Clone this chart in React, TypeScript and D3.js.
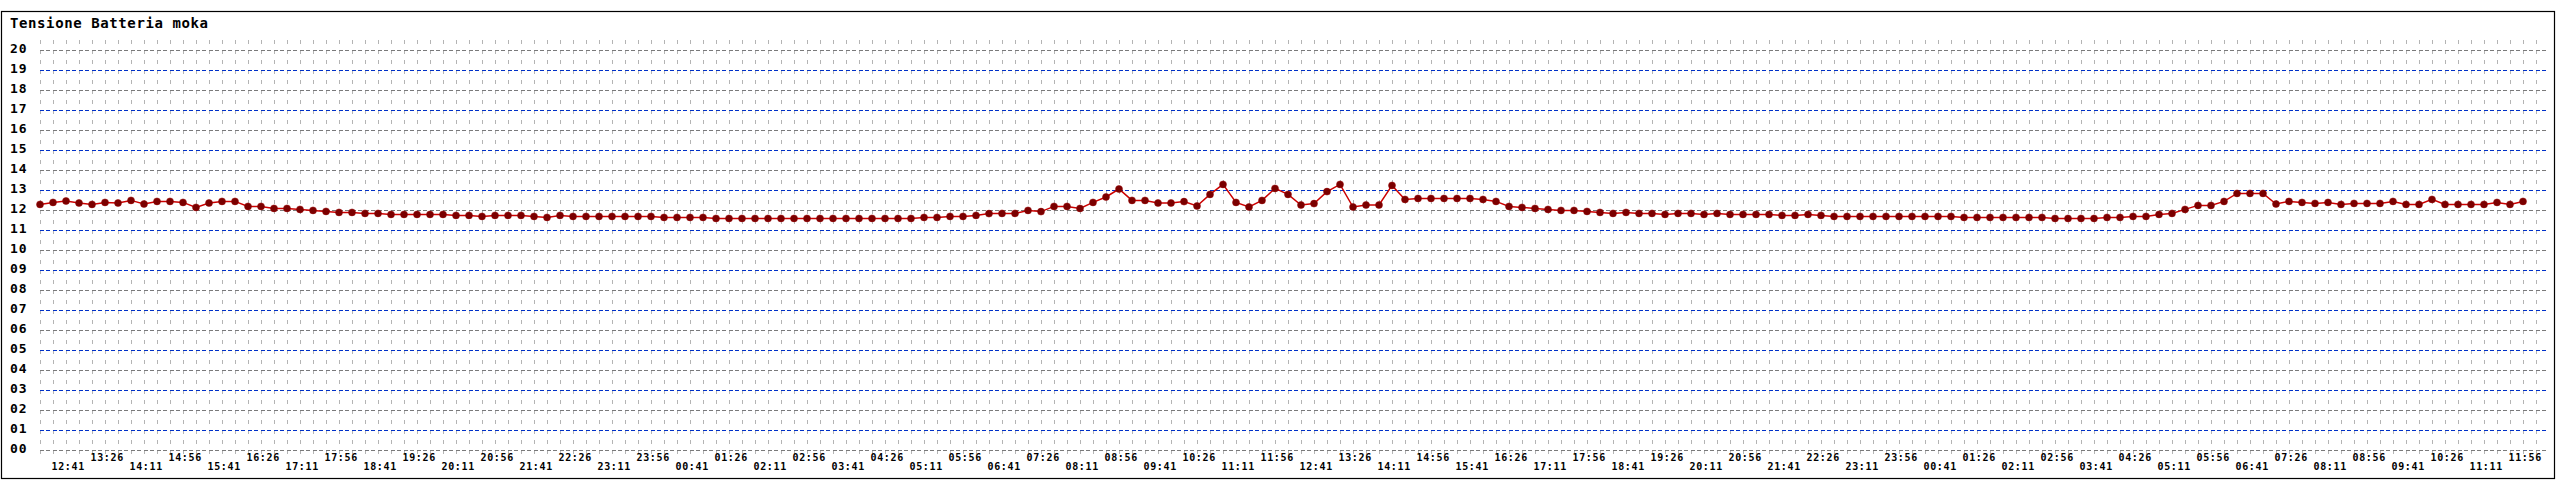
import React, { useEffect, useRef } from 'react';
import * as d3 from 'd3';

// Tensione batteria (V), one reading every 15 minutes starting at 12:26
const voltages: number[] = [
  12.28, 12.38, 12.45, 12.35, 12.28, 12.38, 12.35, 12.48, 12.30, 12.43,
  12.43, 12.38, 12.13, 12.35, 12.43, 12.43, 12.18, 12.18, 12.08, 12.08,
  12.03, 11.98, 11.93, 11.88, 11.88, 11.83, 11.83, 11.78, 11.78, 11.78,
  11.78, 11.78, 11.73, 11.73, 11.68, 11.73, 11.73, 11.73, 11.68, 11.63,
  11.73, 11.68, 11.68, 11.68, 11.68, 11.68, 11.68, 11.68, 11.63, 11.63,
  11.63, 11.63, 11.58, 11.58, 11.58, 11.58, 11.58, 11.58, 11.58, 11.58,
  11.58, 11.58, 11.58, 11.58, 11.58, 11.58, 11.58, 11.58, 11.63, 11.63,
  11.68, 11.68, 11.73, 11.82, 11.83, 11.83, 11.98, 11.92, 12.18, 12.18,
  12.08, 12.38, 12.65, 13.05, 12.48, 12.48, 12.35, 12.35, 12.42, 12.20,
  12.78, 13.28, 12.38, 12.15, 12.48, 13.08, 12.78, 12.25, 12.32, 12.92,
  13.28, 12.15, 12.25, 12.25, 13.23, 12.53, 12.58, 12.58, 12.58, 12.58,
  12.58, 12.53, 12.43, 12.18, 12.13, 12.08, 12.03, 11.98, 11.98, 11.93,
  11.88, 11.83, 11.88, 11.83, 11.83, 11.78, 11.83, 11.83, 11.78, 11.83,
  11.78, 11.78, 11.78, 11.78, 11.73, 11.73, 11.78, 11.73, 11.68, 11.68,
  11.68, 11.68, 11.68, 11.68, 11.68, 11.68, 11.68, 11.68, 11.63, 11.63,
  11.63, 11.63, 11.63, 11.63, 11.63, 11.58, 11.58, 11.58, 11.58, 11.63,
  11.63, 11.68, 11.68, 11.78, 11.83, 12.03, 12.23, 12.23, 12.43, 12.83,
  12.83, 12.83, 12.30, 12.43, 12.38, 12.33, 12.38, 12.28, 12.33, 12.33,
  12.33, 12.43, 12.28, 12.28, 12.53, 12.28, 12.28, 12.28, 12.28, 12.38,
  12.28, 12.43,
];

const yTicks: number[] = d3.range(0, 21);
const title = 'Tensione Batteria moka';

const startTime = new Date(2024, 0, 1, 12, 26);
const stepMinutes = 15;
const gridSlots = 192; // 48 hours of 15 minute slots
const labelEvery = 3; // a label every 45 minutes
const labelOffset = 1; // first label at 12:41

export default function App() {
  const ref = useRef<SVGSVGElement>(null);

  useEffect(() => {
    if (!ref.current) return;
    const svg = d3.select(ref.current);
    svg.selectAll('*').remove();

    const width = 2560;
    const height = 480;
    const plotLeft = 40;
    const plotRight = 2536;

    const endTime = d3.timeMinute.offset(startTime, stepMinutes * gridSlots);
    const x = d3.scaleTime().domain([startTime, endTime]).range([plotLeft, plotRight]);
    const y = d3.scaleLinear().domain([0, 20]).range([450, 50]);

    const times = voltages.map((_, i) => d3.timeMinute.offset(startTime, stepMinutes * i));
    const points = voltages.map((v, i) => ({ t: times[i], v }));

    // background + frame
    svg.append('rect').attr('width', width).attr('height', height).attr('fill', '#fff');
    svg
      .append('rect')
      .attr('x', 1.5)
      .attr('y', 11.5)
      .attr('width', 2553)
      .attr('height', 467)
      .attr('fill', 'none')
      .attr('stroke', '#000')
      .attr('stroke-width', 1.2);

    svg
      .append('text')
      .attr('x', 10)
      .attr('y', 28)
      .attr('font-family', 'DejaVu Sans Mono')
      .attr('font-size', 14)
      .attr('font-weight', 'bold')
      .attr('letter-spacing', 0.6)
      .attr('fill', '#000')
      .text(title);

    // vertical grid
    const gridTimes = d3.range(gridSlots + 1).map(i => d3.timeMinute.offset(startTime, stepMinutes * i));
    svg
      .append('g')
      .attr('shape-rendering', 'crispEdges')
      .selectAll('line')
      .data(gridTimes)
      .enter()
      .append('line')
      .attr('x1', d => Math.round(x(d)) + 0.5)
      .attr('x2', d => Math.round(x(d)) + 0.5)
      .attr('y1', 40)
      .attr('y2', 458)
      .attr('stroke', '#b4b4b4')
      .attr('stroke-width', 1)
      .attr('stroke-dasharray', '4,6');

    // horizontal grid
    svg
      .append('g')
      .attr('shape-rendering', 'crispEdges')
      .selectAll('line')
      .data(yTicks)
      .enter()
      .append('line')
      .attr('x1', plotLeft)
      .attr('x2', 2547)
      .attr('y1', d => y(d) + 0.5)
      .attr('y2', d => y(d) + 0.5)
      .attr('stroke', d => (d % 2 === 1 ? '#0030c8' : '#7a7a7a'))
      .attr('stroke-width', 1)
      .attr('stroke-dasharray', '4,2,4,3');

    // y labels
    svg
      .append('g')
      .selectAll('text')
      .data(yTicks)
      .enter()
      .append('text')
      .attr('x', 10)
      .attr('y', d => y(d) + 3)
      .attr('font-family', 'DejaVu Sans Mono')
      .attr('font-weight', 'bold')
      .attr('font-size', 13)
      .attr('letter-spacing', 0.8)
      .attr('fill', '#000')
      .text(d => d3.format('02d')(d));

    // x labels, staggered on two rows
    const labelTimes = d3
      .range(labelOffset, gridSlots, labelEvery)
      .map(i => d3.timeMinute.offset(startTime, stepMinutes * i));
    svg
      .append('g')
      .selectAll('text')
      .data(labelTimes)
      .enter()
      .append('text')
      .attr('x', d => x(d) - 1.5)
      .attr('y', (d, i) => (i % 2 === 0 ? 470 : 461))
      .attr('font-family', 'DejaVu Sans Mono')
      .attr('font-weight', 'bold')
      .attr('font-size', 10)
      .attr('letter-spacing', 0.65)
      .attr('fill', '#000')
      .text(d => d3.timeFormat('%H:%M')(d));

    // series line
    const line = d3
      .line<{ t: Date; v: number }>()
      .x(d => x(d.t))
      .y(d => y(d.v));
    svg
      .append('path')
      .datum(points)
      .attr('d', line)
      .attr('fill', 'none')
      .attr('stroke', '#cc0000')
      .attr('stroke-width', 1.5);

    // markers
    svg
      .append('g')
      .selectAll('circle')
      .data(points)
      .enter()
      .append('circle')
      .attr('cx', d => x(d.t))
      .attr('cy', d => y(d.v))
      .attr('r', 3.5)
      .attr('fill', '#7a0000')
      .attr('stroke', '#990000')
      .attr('stroke-width', 0.5);
  }, []);

  return (
    <svg
      ref={ref}
      width={2560}
      height={480}
      style={{ position: 'absolute', left: 0, top: 0, display: 'block' }}
    />
  );
}
